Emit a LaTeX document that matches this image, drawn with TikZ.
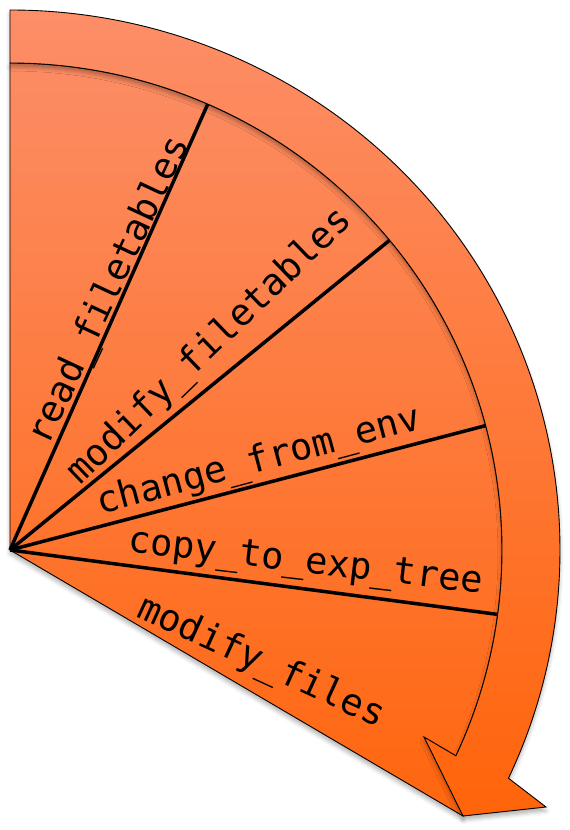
\documentclass[tikz,border=0pt]{standalone}
\usepackage{fontspec}
\newfontfamily\monofont{DejaVu Sans Mono}
\usetikzlibrary{shadows.blur}
\definecolor{bandtop}{RGB}{253,142,104}
\definecolor{bandbot}{RGB}{255,100,10}
\definecolor{sectop}{RGB}{252,140,100}
\definecolor{secbot}{RGB}{255,102,14}
\begin{document}
\begin{tikzpicture}[x=1pt,y=1pt,
  lbl/.style={font=\monofont\fontsize{37}{44}\selectfont, inner sep=0pt, anchor=base},
  divider/.style={line width=3.5pt, draw=black},
  shapeline/.style={draw=black, line width=0.9pt, line join=miter},
  shad/.style={blur shadow={shadow xshift=0pt, shadow yshift=-4pt, shadow blur radius=4pt, shadow opacity=30}}]
\useasboundingbox (-10,-280) rectangle (560,550);

\coordinate (C) at (0,0);
\coordinate (Top) at (0,487);
\coordinate (Tip) at (453,-266);
\coordinate (LB) at (414,-187);
\coordinate (RB) at (536,-257);
\coordinate (OT) at (0,540);
\coordinate (InEnd) at (-25:492 and 487);
\coordinate (d1) at (66.3:494 and 489);
\coordinate (d2) at (39.5:494 and 489);
\coordinate (d3) at (14.8:494 and 489);
\coordinate (d4) at (-7.6:494 and 489);

% sector
\path[shapeline, shad, top color=sectop, bottom color=secbot]
  (C) -- (Top) arc[start angle=90, end angle=-25, x radius=492, y radius=487] -- (Tip) -- cycle;

% dividers
\draw[divider] (C) -- (d1);
\draw[divider] (C) -- (d2);
\draw[divider] (C) -- (d3);
\draw[divider] (C) -- (d4);

% circular arrow band
\path[shapeline, shad, top color=bandtop, bottom color=bandbot]
  (OT) arc[start angle=90, end angle=-25, x radius=550, y radius=540]
  -- (RB) -- (Tip) -- (LB) -- (InEnd)
  arc[start angle=-25, end angle=90, x radius=492, y radius=487] -- cycle;

% labels
\node[lbl, rotate=65] (l1) at (109,255) {read\_filetables};
\node[lbl, rotate=44] (l2) at (207,196) {modify\_filetables};
\node[lbl, rotate=15] (l3) at (251.5,78.5) {change\_from\_env};
\node[lbl, rotate=-6.7] (l4) at (294.5,-22.5) {copy\_to\_exp\_tree};
\node[lbl, rotate=-24.6] (l5) at (247,-122) {modify\_files};
\end{tikzpicture}
\end{document}
